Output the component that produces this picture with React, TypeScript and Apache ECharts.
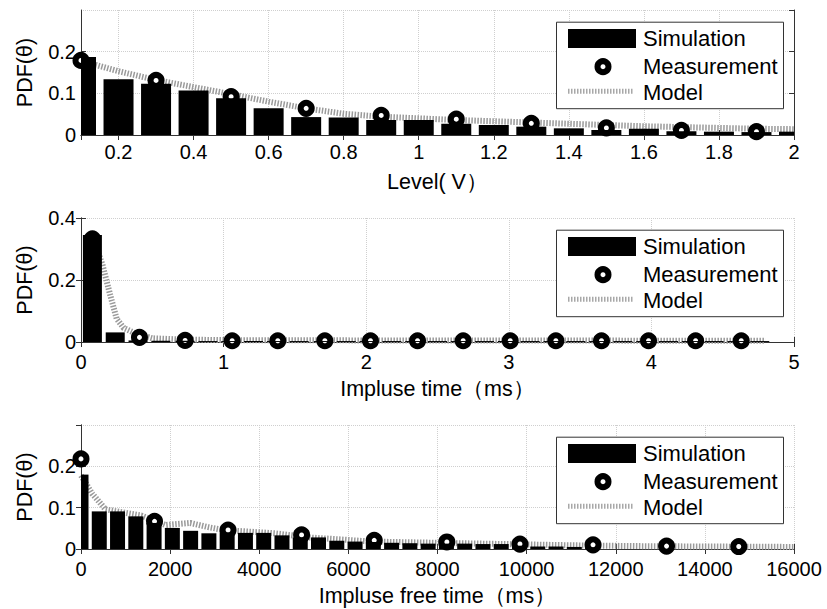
import React, { useEffect, useRef } from "react";
import * as echarts from "echarts";

// ---------- Data ----------
// Panel 1: Level (V)
const levelX = [0.1, 0.2, 0.3, 0.4, 0.5, 0.6, 0.7, 0.8, 0.9, 1.0, 1.1, 1.2, 1.3, 1.4, 1.5, 1.6, 1.7, 1.8, 1.9, 2.0];
const levelSim = [0.187, 0.134, 0.123, 0.107, 0.088, 0.064, 0.043, 0.042, 0.036, 0.036, 0.027, 0.024, 0.02, 0.016, 0.012, 0.015, 0.009, 0.008, 0.007, 0.008];
const levelMeasX = [0.1, 0.3, 0.5, 0.7, 0.9, 1.1, 1.3, 1.5, 1.7, 1.9];
const levelMeas = [0.179, 0.131, 0.092, 0.064, 0.047, 0.038, 0.028, 0.017, 0.011, 0.008];
const levelModelX = [0.1, 0.2, 0.3, 0.4, 0.5, 0.6, 0.7, 0.8, 0.9, 1.0, 1.1, 1.2, 1.3, 1.4, 1.5, 1.6, 1.7, 1.8, 1.9, 2.0];
const levelModel = [0.178, 0.153, 0.132, 0.115, 0.098, 0.08, 0.064, 0.051, 0.044, 0.04, 0.036, 0.033, 0.03, 0.027, 0.024, 0.021, 0.019, 0.017, 0.015, 0.014];

// Panel 2: Impulse time (ms)
const pulseX = [0.08, 0.24, 0.4, 0.56, 0.73, 0.89, 1.05, 1.21, 1.37, 1.53, 1.7, 1.86, 2.02, 2.18, 2.34, 2.5, 2.66, 2.83, 2.99, 3.15, 3.31, 3.47, 3.63, 3.8, 3.96, 4.12, 4.28, 4.44, 4.6, 4.76];
const pulseSim = [0.345, 0.031, 0.005, 0.004, 0.004, 0.003, 0.003, 0.003, 0.003, 0.003, 0.003, 0.003, 0.003, 0.003, 0.003, 0.003, 0.003, 0.003, 0.003, 0.003, 0.003, 0.003, 0.003, 0.003, 0.003, 0.003, 0.003, 0.003, 0.003, 0.003];
const pulseMeasX = [0.08, 0.41, 0.73, 1.06, 1.38, 1.71, 2.03, 2.36, 2.68, 3.01, 3.33, 3.65, 3.98, 4.31, 4.63];
const pulseMeas = [0.333, 0.015, 0.005, 0.004, 0.004, 0.004, 0.004, 0.004, 0.004, 0.004, 0.004, 0.004, 0.004, 0.004, 0.004];
const pulseModelX = [0.08, 0.15, 0.2, 0.25, 0.3, 0.38, 0.5, 0.7, 1, 1.5, 2, 2.5, 3, 3.5, 4, 4.5, 4.8];
const pulseModel = [0.34, 0.25, 0.16, 0.075, 0.045, 0.028, 0.012, 0.008, 0.006, 0.006, 0.005, 0.005, 0.005, 0.005, 0.004, 0.004, 0.004];

// Panel 3: Impulse free time (ms)
const freeX = [0, 410, 820, 1230, 1640, 2050, 2460, 2870, 3280, 3690, 4100, 4510, 4920, 5330, 5740, 6150, 6560, 6970, 7380, 7790, 8200, 8610, 9020, 9430, 9840, 10250, 10660, 11070, 11480];
const freeSim = [0.18, 0.091, 0.091, 0.079, 0.063, 0.051, 0.044, 0.038, 0.04, 0.039, 0.039, 0.033, 0.028, 0.028, 0.02, 0.018, 0.017, 0.015, 0.014, 0.013, 0.013, 0.013, 0.012, 0.012, 0.008, 0.006, 0.006, 0.005, 0.004];
const freeMeasX = [0, 1650, 3300, 4950, 6580, 8210, 9850, 11490, 13140, 14760];
const freeMeas = [0.218, 0.067, 0.046, 0.034, 0.021, 0.017, 0.012, 0.01, 0.007, 0.006];
const freeModelX = [0, 250, 550, 1350, 1900, 2450, 2850, 3200, 4350, 5100, 5850, 6500, 8000, 9500, 11000, 12500, 14000, 16000];
const freeModel = [0.178, 0.134, 0.096, 0.081, 0.058, 0.063, 0.053, 0.046, 0.038, 0.028, 0.023, 0.018, 0.015, 0.012, 0.009, 0.007, 0.006, 0.005];

const xNames = ["Level( V）", "Impluse time（ms）", "Impluse free time（ms）"];
const yName = "PDF(θ)";
const legendNames = ["Simulation", "Measurement", "Model"];

// ---------- Layout ----------
const FONT = '"Liberation Sans", Arial, Helvetica, sans-serif';
const GRID_LEFT = 81;
const GRID_W = 713;
const grids = [
  { top: 10, height: 125 },
  { top: 218, height: 124 },
  { top: 425, height: 124 },
];

const zip = (xs: number[], ys: number[]) => xs.map((x, i) => [x, ys[i]]);
const fmt = (v: number) => String(Math.round(v * 1e6) / 1e6);

function xAxesFor(gi: number, cfg: any, name: string, labelMargin: number) {
  const common = {
    type: "value",
    gridIndex: gi,
    min: cfg.min,
    max: cfg.max,
    ...(cfg.interval ? { interval: cfg.interval } : { splitNumber: cfg.splitNumber }),
    axisLine: { show: true, lineStyle: { color: "#333", width: 1 } },
    axisTick: { show: true, inside: true, length: 5, lineStyle: { color: "#333" } },
  };
  return [
    {
      ...common,
      position: "bottom",
      name,
      nameLocation: "middle",
      nameGap: 36,
      nameTextStyle: { fontFamily: FONT, fontSize: 21.5, color: "#000" },
      axisLabel: {
        show: true,
        margin: labelMargin,
        fontFamily: FONT,
        fontSize: 20,
        color: "#000",
        showMinLabel: cfg.showMinLabel !== false,
        formatter: fmt,
      },
      splitLine: { show: true, lineStyle: { color: "#cfcfcf", type: "dotted", width: 1 } },
    },
    {
      ...common,
      position: "top",
      axisLabel: { show: false },
      splitLine: { show: false },
    },
  ];
}

function yAxesFor(gi: number, max: number, interval: number, showMax: boolean) {
  const common = {
    type: "value",
    gridIndex: gi,
    min: 0,
    max,
    interval,
    axisLine: { show: true, lineStyle: { color: "#333", width: 1 } },
    axisTick: { show: true, inside: true, length: 5, lineStyle: { color: "#333" } },
  };
  return [
    {
      ...common,
      position: "left",
      name: yName,
      nameLocation: "middle",
      nameGap: 45,
      nameTextStyle: { fontFamily: FONT, fontSize: 21.5, color: "#000" },
      axisLabel: {
        show: true,
        margin: 5,
        fontFamily: FONT,
        fontSize: 20,
        color: "#000",
        showMaxLabel: showMax,
        formatter: fmt,
      },
      splitLine: { show: true, lineStyle: { color: "#cfcfcf", type: "dotted", width: 1 } },
    },
    {
      ...common,
      position: "right",
      axisLabel: { show: false },
      splitLine: { show: false },
    },
  ];
}

function makeBarRenderer(barWidth: number) {
  return (params: any, api: any) => {
    const x = api.value(0);
    const y = api.value(1);
    const base = api.coord([x, 0]);
    const top = api.coord([x, y]);
    const cs = params.coordSys;
    const rect = echarts.graphic.clipRectByRect(
      { x: base[0] - barWidth / 2, y: top[1], width: barWidth, height: base[1] - top[1] },
      { x: cs.x, y: cs.y, width: cs.width, height: cs.height }
    );
    if (!rect) return null;
    return { type: "rect", shape: rect, style: { fill: "#000" } };
  };
}

function seriesFor(gi: number, simX: number[], sim: number[], measX: number[], meas: number[], modX: number[], mod: number[], barWidth: number) {
  const axisIdx = gi * 2;
  return [
    {
      type: "line",
      name: legendNames[2],
      xAxisIndex: axisIdx,
      yAxisIndex: axisIdx,
      data: zip(modX, mod),
      showSymbol: false,
      symbol: "none",
      z: 1,
      lineStyle: { color: "#9a9a9a", width: 6, type: [1.5, 1.5] },
    },
    {
      type: "scatter",
      name: legendNames[1],
      xAxisIndex: axisIdx,
      yAxisIndex: axisIdx,
      data: zip(measX, meas),
      symbol: "circle",
      symbolSize: 11,
      clip: false,
      z: 2,
      itemStyle: { color: "#fff", borderColor: "#000", borderWidth: 6, opacity: 1 },
    },
    {
      type: "custom",
      name: legendNames[0],
      xAxisIndex: axisIdx,
      yAxisIndex: axisIdx,
      data: zip(simX, sim),
      encode: { x: 0, y: 1 },
      renderItem: makeBarRenderer(barWidth),
      clip: true,
      z: 3,
    },
  ];
}

function legendGraphics(gridTop: number) {
  const bx = 556;
  const by = gridTop + 11.7;
  const font = `22px ${FONT}`;
  return [
    {
      type: "rect",
      z: 100,
      shape: { x: bx + 0.5, y: by + 0.5, width: 227, height: 86.5 },
      style: { fill: "#fff", stroke: "#333", lineWidth: 1 },
    },
    {
      type: "rect",
      z: 101,
      shape: { x: 568, y: by + 7.3, width: 68, height: 19 },
      style: { fill: "#000" },
    },
    {
      type: "text",
      z: 101,
      x: 643,
      y: by + 17,
      style: { text: legendNames[0], font, fill: "#000", verticalAlign: "middle", align: "left" },
    },
    {
      type: "circle",
      z: 101,
      shape: { cx: 603, cy: by + 45, r: 5.5 },
      style: { fill: "#fff", stroke: "#000", lineWidth: 6 },
    },
    {
      type: "text",
      z: 101,
      x: 643,
      y: by + 44.5,
      style: { text: legendNames[1], font, fill: "#000", verticalAlign: "middle", align: "left" },
    },
    {
      type: "line",
      z: 101,
      shape: { x1: 568, y1: by + 69.5, x2: 634, y2: by + 69.5 },
      style: { stroke: "#a8a8a8", lineWidth: 5, lineDash: [1.5, 1.5] },
    },
    {
      type: "text",
      z: 101,
      x: 643,
      y: by + 70.5,
      style: { text: legendNames[2], font, fill: "#000", verticalAlign: "middle", align: "left" },
    },
  ];
}

export default function App() {
  const ref = useRef<HTMLDivElement>(null);

  useEffect(() => {
    if (!ref.current) return;
    const chart = echarts.init(ref.current, undefined, { renderer: "svg" });

    const option: any = {
      animation: false,
      backgroundColor: "#fff",
      textStyle: { fontFamily: FONT },
      grid: grids.map((g) => ({
        left: GRID_LEFT,
        top: g.top,
        width: GRID_W,
        height: g.height,
        containLabel: false,
      })),
      xAxis: [
        ...xAxesFor(0, { min: 0.1, max: 2, splitNumber: 10, showMinLabel: false }, xNames[0], 7),
        ...xAxesFor(1, { min: 0, max: 5, interval: 1 }, xNames[1], 10),
        ...xAxesFor(2, { min: 0, max: 16000, interval: 2000 }, xNames[2], 10),
      ],
      yAxis: [
        ...yAxesFor(0, 0.3, 0.1, false),
        ...yAxesFor(1, 0.4, 0.2, true),
        ...yAxesFor(2, 0.3, 0.1, false),
      ],
      series: [
        ...seriesFor(0, levelX, levelSim, levelMeasX, levelMeas, levelModelX, levelModel, 30),
        ...seriesFor(1, pulseX, pulseSim, pulseMeasX, pulseMeas, pulseModelX, pulseModel, 19),
        ...seriesFor(2, freeX, freeSim, freeMeasX, freeMeas, freeModelX, freeModel, 15),
      ],
      graphic: [...legendGraphics(grids[0].top), ...legendGraphics(grids[1].top), ...legendGraphics(grids[2].top)],
    };

    chart.setOption(option);
    return () => chart.dispose();
  }, []);

  return (
    <div
      ref={ref}
      style={{ position: "fixed", left: 0, top: 0, width: 827, height: 609, background: "#fff" }}
    />
  );
}
